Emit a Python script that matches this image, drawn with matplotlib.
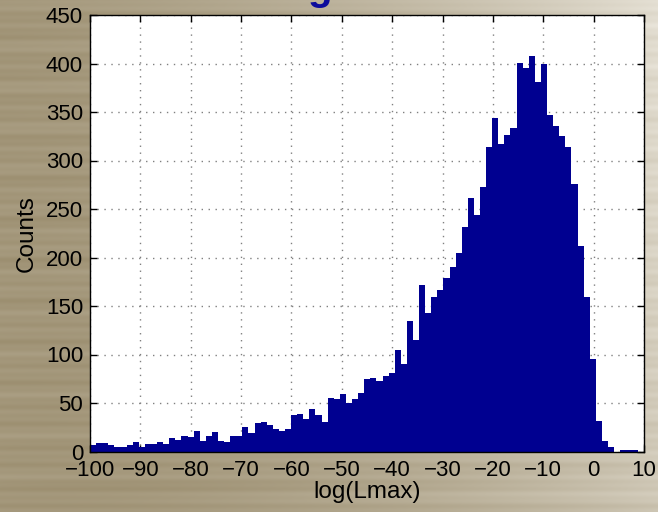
import numpy as np
import matplotlib
matplotlib.use("Agg")
import matplotlib.pyplot as plt

# Histogram of log(Lmax): 90 equal-width bins starting at -100
bin_start = -100.0
bin_stop = 8.9
counts = [
    7, 9, 9, 7, 5, 5, 7, 10, 5, 8,
    8, 10, 8, 14, 12, 16, 15, 21, 11, 16,
    20, 11, 10, 16, 16, 25, 19, 29, 30, 27,
    23, 21, 23, 38, 39, 33, 44, 38, 30, 55,
    54, 59, 50, 54, 60, 75, 76, 73, 78, 81,
    105, 90, 135, 115, 172, 143, 159, 167, 179, 190,
    205, 231, 261, 244, 273, 314, 344, 317, 326, 333,
    401, 395, 408, 381, 400, 347, 336, 325, 314, 276,
    212, 159, 95, 31, 11, 5, 0, 2, 2, 2,
]
xtick_values = [-100, -90, -80, -70, -60, -50, -40, -30, -20, -10, 0, 10]
ytick_values = [0, 50, 100, 150, 200, 250, 300, 350, 400, 450]
x_label = "log(Lmax)"
y_label = "Counts"

edges = np.linspace(bin_start, bin_stop, len(counts) + 1)
widths = np.diff(edges)

plt.rcParams["font.family"] = ["Liberation Sans", "DejaVu Sans"]

W, H = 658, 512
fig = plt.figure(figsize=(W / 100, H / 100), dpi=100)

# brushed-metal style backdrop
bg_ax = fig.add_axes([0, 0, 1, 1], zorder=-10)
bg_ax.set_axis_off()
xx = np.linspace(0, 1, W)[None, :]
yy = np.linspace(0, 1, H)[:, None]
dark = np.array([150, 136, 104]) / 255.0
light = np.array([236, 232, 222]) / 255.0
t = np.clip(0.15 + 0.75 * xx ** 1.6 - 0.25 * yy * xx, 0, 1)
streak = (0.035 * np.sin(yy * 157.0) + 0.025 * np.sin(yy * 391.0 + 1.3)
          + 0.02 * np.sin(yy * 83.0 + xx * 4.0))
t = np.clip(t + streak, 0, 1)
img = dark[None, None, :] * (1 - t[..., None]) + light[None, None, :] * t[..., None]
bg_ax.imshow(img, extent=[0, 1, 0, 1], aspect="auto", origin="upper")
bg_ax.set_xlim(0, 1)
bg_ax.set_ylim(0, 1)

# partially visible heading glyph at the top edge
fig.text(0.4855, 1.0, "g", color="#0c0c9c", fontsize=29, ha="center",
         va="baseline", fontweight="bold")

ax = fig.add_axes([90 / W, 1 - 451.5 / H, (644 - 90) / W, (451.5 - 15) / H])
ax.set_facecolor("white")
ax.bar(edges[:-1], counts, width=widths, align="edge", color="#000090",
       linewidth=0, zorder=2)

ax.set_xlim(-100, 10)
ax.set_ylim(0, 450)
ax.set_xticks(xtick_values)
ax.set_xticklabels([f"{v}".replace("-", "\u2212") for v in xtick_values])
ax.set_yticks(ytick_values)
ax.set_yticklabels([str(v) for v in ytick_values])

ax.set_axisbelow(True)
ax.grid(True, color="#808080", linestyle=(0, (1, 4)), linewidth=1.0)
ax.tick_params(direction="in", length=5, width=1, top=True, right=True,
               labelsize=16, pad=5, colors="black")
ax.tick_params(axis="x", pad=6)
for s in ax.spines.values():
    s.set_linewidth(1.0)
    s.set_color("black")
    s.set_zorder(3)

ax.set_xlabel(x_label, fontsize=17.5, labelpad=0)
ax.set_ylabel(y_label, fontsize=17.5, labelpad=6)

fig.savefig("out.png", dpi=100)
